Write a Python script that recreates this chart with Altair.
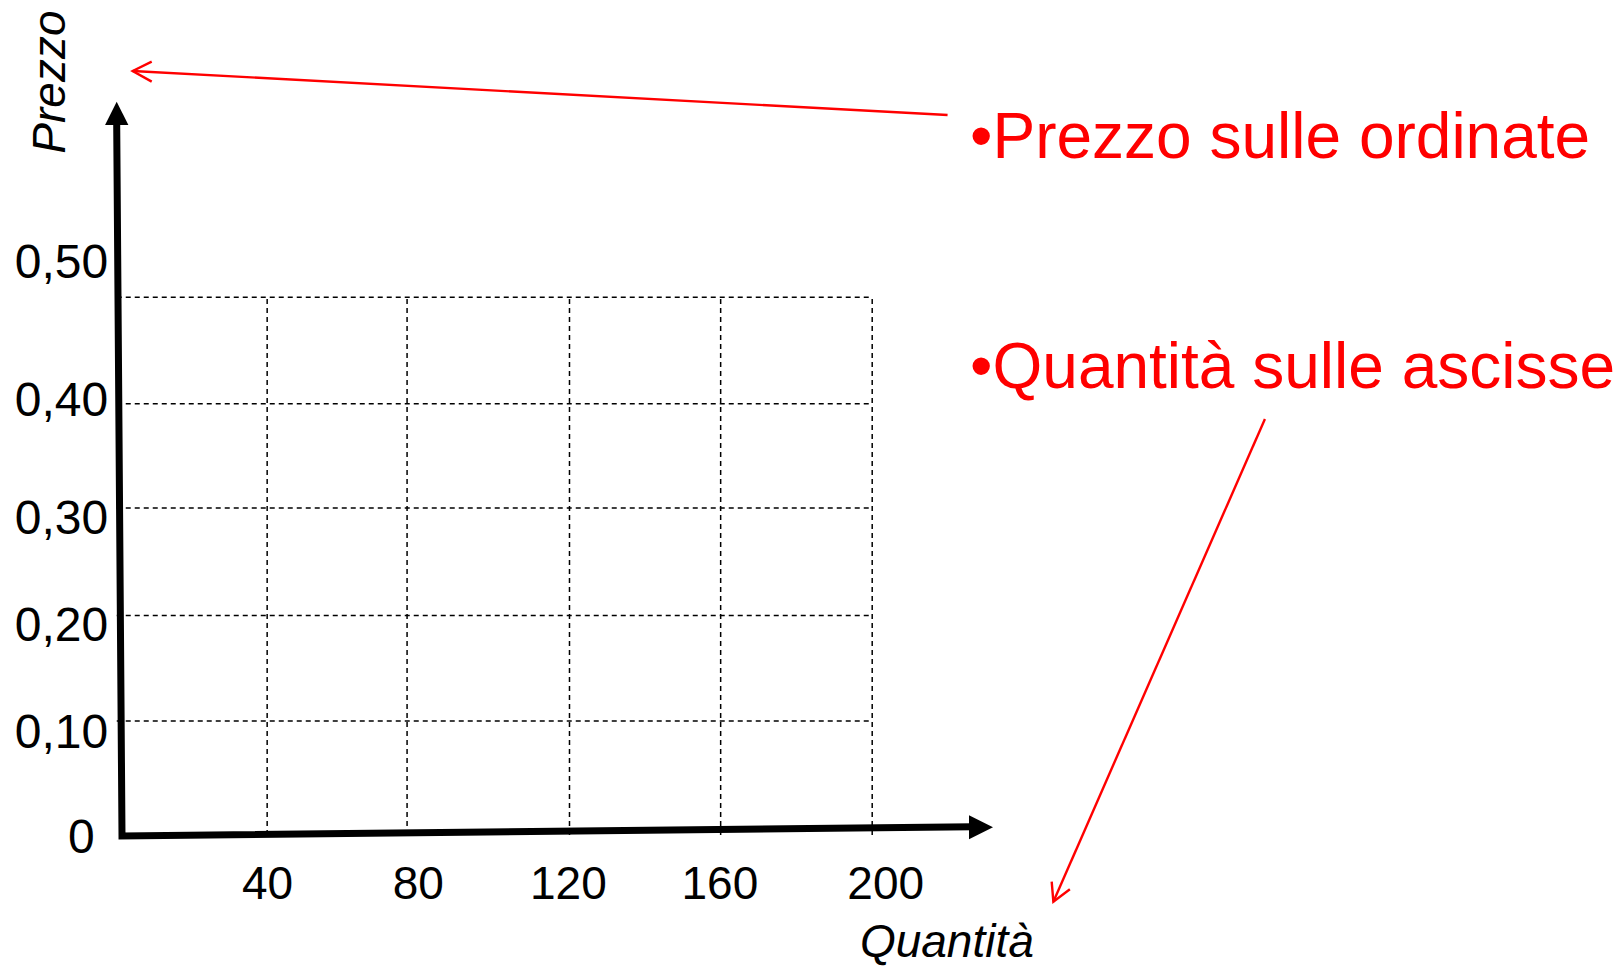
import altair as alt
import pandas as pd

# ---------------- data ----------------
x_tick_labels = ["40", "80", "120", "160", "200"]
x_tick_label_pos = [38.8, 79.0, 119.0, 159.4, 203.6]
x_tick_label_base = -0.0595

y_tick_labels = ["0,50", "0,40", "0,30", "0,20", "0,10", "0"]
y_tick_label_base = [0.518, 0.390, 0.280, 0.180, 0.081, -0.017]
y_tick_label_right = [-3.7, -3.7, -3.7, -3.7, -3.7, -7.3]

grid_x = [38.7, 76.0, 119.3, 159.6, 200.0]
grid_y = [0.106, 0.204, 0.304, 0.401, 0.500]
grid_x_end = 200.0
grid_y_end = 0.500
grid_x_start = -1.4

# black axes (polyline: top of price axis -> origin -> end of quantity axis)
axis_x = [-1.41, 0.0, 225.9]
axis_y = [0.660, -0.001, 0.0077]
# arrow heads
head_up = (-1.41, 0.6709)
head_right = (229.0, 0.00725)

# red annotation arrows
red_ids = ["a1", "a1", "h1", "h1", "h1", "a2", "a2", "h2", "h2", "h2"]
red_x = [220.1, 2.85, 7.92, 2.85, 7.92, 304.7, 248.3, 247.85, 248.3, 252.7]
red_y = [0.6694, 0.7103, 0.7190, 0.7103, 0.7004, 0.3868, -0.0620, -0.0434, -0.0620, -0.0505]

notes = ["\u2022Prezzo sulle ordinate", "\u2022Quantit\u00e0 sulle ascisse"]
notes_x = [226.1, 226.1]
notes_y = [0.629, 0.4153]

title_y_text = "Prezzo"
title_y_pos = (-15.2, 0.700)
title_x_text = "Quantit\u00e0"
title_x_pos = (219.9, -0.1136)

# ---------------- scales ----------------
W, H = 1608, 959
X0_PX, X_PER = 114.0, 3.751     # chart px of quantity 0, px per unit
Y0_PX, Y_PER = 827.0, 1075.6    # chart px of price 0, px per unit
x_dom = [-X0_PX / X_PER, (W - X0_PX) / X_PER]
y_dom = [-(H - Y0_PX) / Y_PER, Y0_PX / Y_PER]

xs = alt.Scale(domain=x_dom, nice=False, zero=False)
ys = alt.Scale(domain=y_dom, nice=False, zero=False)
FONT = "Liberation Sans"

def X(f="x"):
    return alt.X(f"{f}:Q", scale=xs, axis=None)

def Y(f="y"):
    return alt.Y(f"{f}:Q", scale=ys, axis=None)

# grid
hgrid = alt.Chart(pd.DataFrame({"y": grid_y, "x": [grid_x_start] * len(grid_y),
                                "x2": [grid_x_end] * len(grid_y)})).mark_rule(
    color="black", strokeWidth=1.5, strokeDash=[5, 4]).encode(
    x=X(), x2="x2:Q", y=Y())
vgrid = alt.Chart(pd.DataFrame({"x": grid_x, "y": [0.0] * len(grid_x),
                                "y2": [grid_y_end] * len(grid_x)})).mark_rule(
    color="black", strokeWidth=1.5, strokeDash=[5, 4]).encode(
    x=X(), y=Y(), y2="y2:Q")

# axes
axes = alt.Chart(pd.DataFrame({"x": axis_x, "y": axis_y, "o": list(range(len(axis_x)))})).mark_line(
    color="black", strokeWidth=7, strokeCap="square", strokeJoin="miter").encode(
    x=X(), y=Y(), order="o:Q")

head1 = alt.Chart(pd.DataFrame({"x": [head_up[0]], "y": [head_up[1]]})).mark_point(
    shape="M0,-1L1,1L-1,1Z", size=543, filled=True, color="black", opacity=1, strokeWidth=0).encode(
    x=X(), y=Y())
head2 = alt.Chart(pd.DataFrame({"x": [head_right[0]], "y": [head_right[1]]})).mark_point(
    shape="M1,0L-1,-1L-1,1Z", size=576, filled=True, color="black", opacity=1, strokeWidth=0).encode(
    x=X(), y=Y())

# tick labels
xlab = alt.Chart(pd.DataFrame({"t": x_tick_labels, "x": x_tick_label_pos,
                               "y": [x_tick_label_base] * len(x_tick_labels)})).mark_text(
    font=FONT, fontSize=46, color="black", align="center", baseline="alphabetic").encode(
    x=X(), y=Y(), text="t:N")
ylab = alt.Chart(pd.DataFrame({"t": y_tick_labels, "x": y_tick_label_right,
                               "y": y_tick_label_base})).mark_text(
    font=FONT, fontSize=48, color="black", align="right", baseline="alphabetic").encode(
    x=X(), y=Y(), text="t:N")

# axis titles
ty = alt.Chart(pd.DataFrame({"t": [title_y_text], "x": [title_y_pos[0]], "y": [title_y_pos[1]]})).mark_text(
    font=FONT, fontSize=46, fontStyle="italic", color="black", align="center",
    baseline="alphabetic", angle=270).encode(x=X(), y=Y(), text="t:N")
tx = alt.Chart(pd.DataFrame({"t": [title_x_text], "x": [title_x_pos[0]], "y": [title_x_pos[1]]})).mark_text(
    font=FONT, fontSize=46, fontStyle="italic", color="black", align="center",
    baseline="alphabetic").encode(x=X(), y=Y(), text="t:N")

# red annotations
red_df = pd.DataFrame({"id": red_ids, "x": red_x, "y": red_y, "o": list(range(len(red_x)))})
red_lines = alt.Chart(red_df).mark_line(color="#FF0000", strokeWidth=2.4).encode(
    x=X(), y=Y(), detail="id:N", order="o:Q")
red_text = alt.Chart(pd.DataFrame({"t": notes, "x": notes_x, "y": notes_y})).mark_text(
    font=FONT, fontSize=64, color="#FF0000", align="left", baseline="alphabetic").encode(
    x=X(), y=Y(), text="t:N")

chart = alt.layer(hgrid, vgrid, axes, head1, head2, xlab, ylab, ty, tx, red_lines, red_text).properties(
    width=W, height=H, padding=0, autosize=alt.AutoSizeParams(type="none"),
    background="white").configure_view(strokeWidth=0)

chart.save("out.html", embed_options={"renderer": "svg", "actions": False})
